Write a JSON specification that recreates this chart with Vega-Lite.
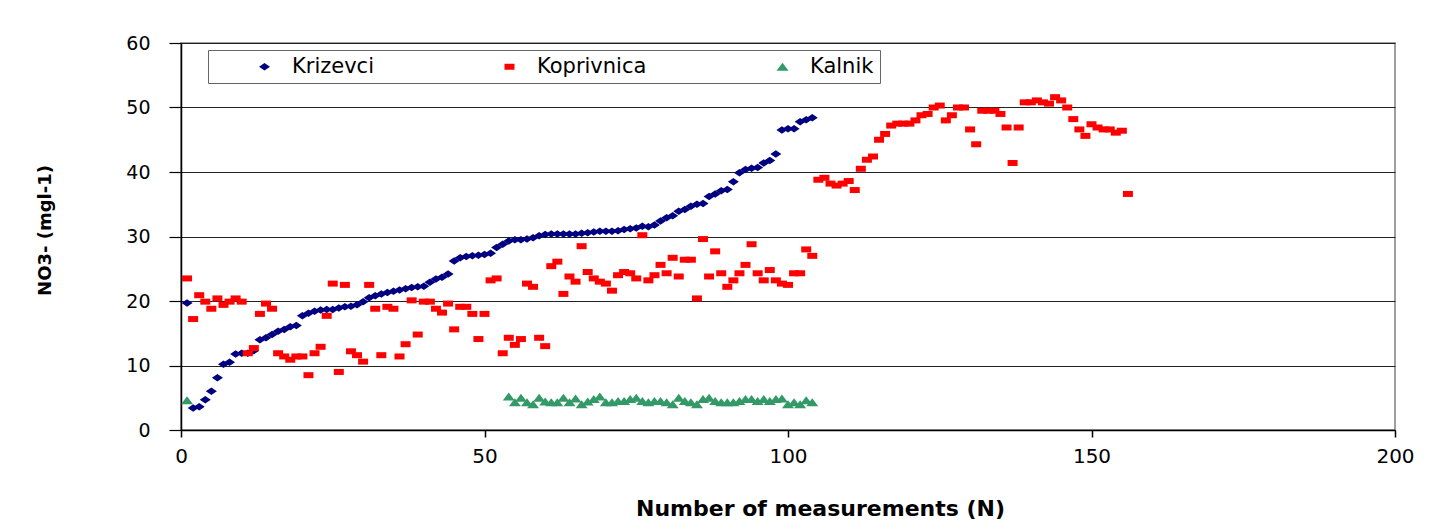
{
  "$schema": "https://vega.github.io/schema/vega-lite/v6.json",
  "width": 1214,
  "height": 387,
  "autosize": "none",
  "padding": {"left": 181, "top": 43, "right": 42, "bottom": 101},
  "background": "white",
  "config": {"view": {"stroke": "#808080", "strokeWidth": 1.5}, "font": "DejaVu Sans"},
  "data": {"values": [
    {"series":"Krizevci","N":1,"v":19.7},{"series":"Krizevci","N":2,"v":3.4},{"series":"Krizevci","N":3,"v":3.6},{"series":"Krizevci","N":4,"v":4.7},{"series":"Krizevci","N":5,"v":6.0},{"series":"Krizevci","N":6,"v":8.1},{"series":"Krizevci","N":7,"v":10.2},{"series":"Krizevci","N":8,"v":10.5},{"series":"Krizevci","N":9,"v":11.8},{"series":"Krizevci","N":10,"v":11.9},
    {"series":"Krizevci","N":11,"v":11.9},{"series":"Krizevci","N":12,"v":12.3},{"series":"Krizevci","N":13,"v":14.0},{"series":"Krizevci","N":14,"v":14.3},{"series":"Krizevci","N":15,"v":14.8},{"series":"Krizevci","N":16,"v":15.3},{"series":"Krizevci","N":17,"v":15.6},{"series":"Krizevci","N":18,"v":16.0},{"series":"Krizevci","N":19,"v":16.2},{"series":"Krizevci","N":20,"v":17.7},
    {"series":"Krizevci","N":21,"v":18.1},{"series":"Krizevci","N":22,"v":18.4},{"series":"Krizevci","N":23,"v":18.6},{"series":"Krizevci","N":24,"v":18.7},{"series":"Krizevci","N":25,"v":18.7},{"series":"Krizevci","N":26,"v":18.9},{"series":"Krizevci","N":27,"v":19.1},{"series":"Krizevci","N":28,"v":19.2},{"series":"Krizevci","N":29,"v":19.4},{"series":"Krizevci","N":30,"v":19.9},
    {"series":"Krizevci","N":31,"v":20.5},{"series":"Krizevci","N":32,"v":20.8},{"series":"Krizevci","N":33,"v":21.1},{"series":"Krizevci","N":34,"v":21.3},{"series":"Krizevci","N":35,"v":21.5},{"series":"Krizevci","N":36,"v":21.7},{"series":"Krizevci","N":37,"v":21.9},{"series":"Krizevci","N":38,"v":22.1},{"series":"Krizevci","N":39,"v":22.2},{"series":"Krizevci","N":40,"v":22.3},
    {"series":"Krizevci","N":41,"v":22.9},{"series":"Krizevci","N":42,"v":23.4},{"series":"Krizevci","N":43,"v":23.7},{"series":"Krizevci","N":44,"v":24.2},{"series":"Krizevci","N":45,"v":26.2},{"series":"Krizevci","N":46,"v":26.7},{"series":"Krizevci","N":47,"v":26.9},{"series":"Krizevci","N":48,"v":27.0},{"series":"Krizevci","N":49,"v":27.1},{"series":"Krizevci","N":50,"v":27.2},
    {"series":"Krizevci","N":51,"v":27.4},{"series":"Krizevci","N":52,"v":28.3},{"series":"Krizevci","N":53,"v":28.8},{"series":"Krizevci","N":54,"v":29.3},{"series":"Krizevci","N":55,"v":29.5},{"series":"Krizevci","N":56,"v":29.5},{"series":"Krizevci","N":57,"v":29.6},{"series":"Krizevci","N":58,"v":29.8},{"series":"Krizevci","N":59,"v":30.1},{"series":"Krizevci","N":60,"v":30.3},
    {"series":"Krizevci","N":61,"v":30.4},{"series":"Krizevci","N":62,"v":30.4},{"series":"Krizevci","N":63,"v":30.4},{"series":"Krizevci","N":64,"v":30.4},{"series":"Krizevci","N":65,"v":30.4},{"series":"Krizevci","N":66,"v":30.5},{"series":"Krizevci","N":67,"v":30.6},{"series":"Krizevci","N":68,"v":30.7},{"series":"Krizevci","N":69,"v":30.8},{"series":"Krizevci","N":70,"v":30.8},
    {"series":"Krizevci","N":71,"v":30.8},{"series":"Krizevci","N":72,"v":30.9},{"series":"Krizevci","N":73,"v":31.1},{"series":"Krizevci","N":74,"v":31.2},{"series":"Krizevci","N":75,"v":31.3},{"series":"Krizevci","N":76,"v":31.6},{"series":"Krizevci","N":77,"v":31.5},{"series":"Krizevci","N":78,"v":31.8},{"series":"Krizevci","N":79,"v":32.4},{"series":"Krizevci","N":80,"v":32.9},
    {"series":"Krizevci","N":81,"v":33.2},{"series":"Krizevci","N":82,"v":33.9},{"series":"Krizevci","N":83,"v":34.2},{"series":"Krizevci","N":84,"v":34.7},{"series":"Krizevci","N":85,"v":35.0},{"series":"Krizevci","N":86,"v":35.1},{"series":"Krizevci","N":87,"v":36.2},{"series":"Krizevci","N":88,"v":36.6},{"series":"Krizevci","N":89,"v":37.1},{"series":"Krizevci","N":90,"v":37.3},
    {"series":"Krizevci","N":91,"v":38.5},{"series":"Krizevci","N":92,"v":39.9},{"series":"Krizevci","N":93,"v":40.4},{"series":"Krizevci","N":94,"v":40.6},{"series":"Krizevci","N":95,"v":40.7},{"series":"Krizevci","N":96,"v":41.4},{"series":"Krizevci","N":97,"v":41.8},{"series":"Krizevci","N":98,"v":42.8},{"series":"Krizevci","N":99,"v":46.5},{"series":"Krizevci","N":100,"v":46.7},
    {"series":"Krizevci","N":101,"v":46.7},{"series":"Krizevci","N":102,"v":47.8},{"series":"Krizevci","N":103,"v":48.1},{"series":"Krizevci","N":104,"v":48.4},
    {"series":"Koprivnica","N":1,"v":23.5},{"series":"Koprivnica","N":2,"v":17.2},{"series":"Koprivnica","N":3,"v":20.9},{"series":"Koprivnica","N":4,"v":19.9},{"series":"Koprivnica","N":5,"v":18.8},{"series":"Koprivnica","N":6,"v":20.4},{"series":"Koprivnica","N":7,"v":19.4},{"series":"Koprivnica","N":8,"v":19.9},{"series":"Koprivnica","N":9,"v":20.4},{"series":"Koprivnica","N":10,"v":19.9},
    {"series":"Koprivnica","N":11,"v":11.9},{"series":"Koprivnica","N":12,"v":12.7},{"series":"Koprivnica","N":13,"v":18.0},{"series":"Koprivnica","N":14,"v":19.6},{"series":"Koprivnica","N":15,"v":18.8},{"series":"Koprivnica","N":16,"v":11.9},{"series":"Koprivnica","N":17,"v":11.4},{"series":"Koprivnica","N":18,"v":10.9},{"series":"Koprivnica","N":19,"v":11.4},{"series":"Koprivnica","N":20,"v":11.4},
    {"series":"Koprivnica","N":21,"v":8.5},{"series":"Koprivnica","N":22,"v":11.9},{"series":"Koprivnica","N":23,"v":12.9},{"series":"Koprivnica","N":24,"v":17.7},{"series":"Koprivnica","N":25,"v":22.7},{"series":"Koprivnica","N":26,"v":9.0},{"series":"Koprivnica","N":27,"v":22.5},{"series":"Koprivnica","N":28,"v":12.2},{"series":"Koprivnica","N":29,"v":11.6},{"series":"Koprivnica","N":30,"v":10.6},
    {"series":"Koprivnica","N":31,"v":22.5},{"series":"Koprivnica","N":32,"v":18.8},{"series":"Koprivnica","N":33,"v":11.6},{"series":"Koprivnica","N":34,"v":19.1},{"series":"Koprivnica","N":35,"v":18.8},{"series":"Koprivnica","N":36,"v":11.4},{"series":"Koprivnica","N":37,"v":13.3},{"series":"Koprivnica","N":38,"v":20.1},{"series":"Koprivnica","N":39,"v":14.8},{"series":"Koprivnica","N":40,"v":19.9},
    {"series":"Koprivnica","N":41,"v":19.9},{"series":"Koprivnica","N":42,"v":18.8},{"series":"Koprivnica","N":43,"v":18.2},{"series":"Koprivnica","N":44,"v":19.6},{"series":"Koprivnica","N":45,"v":15.6},{"series":"Koprivnica","N":46,"v":19.1},{"series":"Koprivnica","N":47,"v":19.1},{"series":"Koprivnica","N":48,"v":18.0},{"series":"Koprivnica","N":49,"v":14.1},{"series":"Koprivnica","N":50,"v":18.0},
    {"series":"Koprivnica","N":51,"v":23.2},{"series":"Koprivnica","N":52,"v":23.5},{"series":"Koprivnica","N":53,"v":11.9},{"series":"Koprivnica","N":54,"v":14.3},{"series":"Koprivnica","N":55,"v":13.2},{"series":"Koprivnica","N":56,"v":14.1},{"series":"Koprivnica","N":57,"v":22.7},{"series":"Koprivnica","N":58,"v":22.2},{"series":"Koprivnica","N":59,"v":14.3},{"series":"Koprivnica","N":60,"v":13.0},
    {"series":"Koprivnica","N":61,"v":25.4},{"series":"Koprivnica","N":62,"v":26.1},{"series":"Koprivnica","N":63,"v":21.1},{"series":"Koprivnica","N":64,"v":23.8},{"series":"Koprivnica","N":65,"v":23.0},{"series":"Koprivnica","N":66,"v":28.5},{"series":"Koprivnica","N":67,"v":24.5},{"series":"Koprivnica","N":68,"v":23.5},{"series":"Koprivnica","N":69,"v":23.0},{"series":"Koprivnica","N":70,"v":22.7},
    {"series":"Koprivnica","N":71,"v":21.6},{"series":"Koprivnica","N":72,"v":24.0},{"series":"Koprivnica","N":73,"v":24.5},{"series":"Koprivnica","N":74,"v":24.3},{"series":"Koprivnica","N":75,"v":23.5},{"series":"Koprivnica","N":76,"v":30.2},{"series":"Koprivnica","N":77,"v":23.2},{"series":"Koprivnica","N":78,"v":24.0},{"series":"Koprivnica","N":79,"v":25.6},{"series":"Koprivnica","N":80,"v":24.3},
    {"series":"Koprivnica","N":81,"v":26.7},{"series":"Koprivnica","N":82,"v":23.8},{"series":"Koprivnica","N":83,"v":26.4},{"series":"Koprivnica","N":84,"v":26.4},{"series":"Koprivnica","N":85,"v":20.4},{"series":"Koprivnica","N":86,"v":29.6},{"series":"Koprivnica","N":87,"v":23.8},{"series":"Koprivnica","N":88,"v":27.7},{"series":"Koprivnica","N":89,"v":24.3},{"series":"Koprivnica","N":90,"v":22.2},
    {"series":"Koprivnica","N":91,"v":23.2},{"series":"Koprivnica","N":92,"v":24.3},{"series":"Koprivnica","N":93,"v":25.6},{"series":"Koprivnica","N":94,"v":28.8},{"series":"Koprivnica","N":95,"v":24.3},{"series":"Koprivnica","N":96,"v":23.2},{"series":"Koprivnica","N":97,"v":24.8},{"series":"Koprivnica","N":98,"v":23.2},{"series":"Koprivnica","N":99,"v":22.7},{"series":"Koprivnica","N":100,"v":22.5},
    {"series":"Koprivnica","N":101,"v":24.3},{"series":"Koprivnica","N":102,"v":24.3},{"series":"Koprivnica","N":103,"v":28.0},{"series":"Koprivnica","N":104,"v":27.0},{"series":"Koprivnica","N":105,"v":38.8},{"series":"Koprivnica","N":106,"v":39.1},{"series":"Koprivnica","N":107,"v":38.2},{"series":"Koprivnica","N":108,"v":37.9},{"series":"Koprivnica","N":109,"v":38.2},{"series":"Koprivnica","N":110,"v":38.6},
    {"series":"Koprivnica","N":111,"v":37.2},{"series":"Koprivnica","N":112,"v":40.5},{"series":"Koprivnica","N":113,"v":41.9},{"series":"Koprivnica","N":114,"v":42.4},{"series":"Koprivnica","N":115,"v":45.0},{"series":"Koprivnica","N":116,"v":45.9},{"series":"Koprivnica","N":117,"v":47.2},{"series":"Koprivnica","N":118,"v":47.5},{"series":"Koprivnica","N":119,"v":47.5},{"series":"Koprivnica","N":120,"v":47.5},
    {"series":"Koprivnica","N":121,"v":48.0},{"series":"Koprivnica","N":122,"v":48.8},{"series":"Koprivnica","N":123,"v":49.0},{"series":"Koprivnica","N":124,"v":50.0},{"series":"Koprivnica","N":125,"v":50.3},{"series":"Koprivnica","N":126,"v":48.0},{"series":"Koprivnica","N":127,"v":48.8},{"series":"Koprivnica","N":128,"v":50.0},{"series":"Koprivnica","N":129,"v":50.0},{"series":"Koprivnica","N":130,"v":46.6},
    {"series":"Koprivnica","N":131,"v":44.3},{"series":"Koprivnica","N":132,"v":49.5},{"series":"Koprivnica","N":133,"v":49.5},{"series":"Koprivnica","N":134,"v":49.5},{"series":"Koprivnica","N":135,"v":49.0},{"series":"Koprivnica","N":136,"v":46.9},{"series":"Koprivnica","N":137,"v":41.4},{"series":"Koprivnica","N":138,"v":46.9},{"series":"Koprivnica","N":139,"v":50.8},{"series":"Koprivnica","N":140,"v":50.8},
    {"series":"Koprivnica","N":141,"v":51.1},{"series":"Koprivnica","N":142,"v":50.8},{"series":"Koprivnica","N":143,"v":50.6},{"series":"Koprivnica","N":144,"v":51.6},{"series":"Koprivnica","N":145,"v":51.1},{"series":"Koprivnica","N":146,"v":50.0},{"series":"Koprivnica","N":147,"v":48.2},{"series":"Koprivnica","N":148,"v":46.6},{"series":"Koprivnica","N":149,"v":45.6},{"series":"Koprivnica","N":150,"v":47.4},
    {"series":"Koprivnica","N":151,"v":46.9},{"series":"Koprivnica","N":152,"v":46.6},{"series":"Koprivnica","N":153,"v":46.6},{"series":"Koprivnica","N":154,"v":46.1},{"series":"Koprivnica","N":155,"v":46.4},{"series":"Koprivnica","N":156,"v":36.6},
    {"series":"Kalnik","N":1,"v":4.6},
    {"series":"Kalnik","N":54,"v":5.2},{"series":"Kalnik","N":55,"v":4.3},{"series":"Kalnik","N":56,"v":5.0},{"series":"Kalnik","N":57,"v":4.3},{"series":"Kalnik","N":58,"v":4.0},{"series":"Kalnik","N":59,"v":5.0},{"series":"Kalnik","N":60,"v":4.4},{"series":"Kalnik","N":61,"v":4.3},{"series":"Kalnik","N":62,"v":4.3},{"series":"Kalnik","N":63,"v":5.0},
    {"series":"Kalnik","N":64,"v":4.3},{"series":"Kalnik","N":65,"v":4.9},{"series":"Kalnik","N":66,"v":4.0},{"series":"Kalnik","N":67,"v":4.4},{"series":"Kalnik","N":68,"v":4.8},{"series":"Kalnik","N":69,"v":5.2},{"series":"Kalnik","N":70,"v":4.3},{"series":"Kalnik","N":71,"v":4.3},{"series":"Kalnik","N":72,"v":4.5},{"series":"Kalnik","N":73,"v":4.5},
    {"series":"Kalnik","N":74,"v":4.8},{"series":"Kalnik","N":75,"v":5.0},{"series":"Kalnik","N":76,"v":4.5},{"series":"Kalnik","N":77,"v":4.3},{"series":"Kalnik","N":78,"v":4.5},{"series":"Kalnik","N":79,"v":4.5},{"series":"Kalnik","N":80,"v":4.3},{"series":"Kalnik","N":81,"v":4.0},{"series":"Kalnik","N":82,"v":5.0},{"series":"Kalnik","N":83,"v":4.5},
    {"series":"Kalnik","N":84,"v":4.3},{"series":"Kalnik","N":85,"v":4.0},{"series":"Kalnik","N":86,"v":4.8},{"series":"Kalnik","N":87,"v":5.0},{"series":"Kalnik","N":88,"v":4.5},{"series":"Kalnik","N":89,"v":4.3},{"series":"Kalnik","N":90,"v":4.3},{"series":"Kalnik","N":91,"v":4.3},{"series":"Kalnik","N":92,"v":4.5},{"series":"Kalnik","N":93,"v":4.8},
    {"series":"Kalnik","N":94,"v":4.8},{"series":"Kalnik","N":95,"v":4.5},{"series":"Kalnik","N":96,"v":4.8},{"series":"Kalnik","N":97,"v":4.5},{"series":"Kalnik","N":98,"v":4.8},{"series":"Kalnik","N":99,"v":4.9},{"series":"Kalnik","N":100,"v":4.0},{"series":"Kalnik","N":101,"v":4.3},{"series":"Kalnik","N":102,"v":4.0},{"series":"Kalnik","N":103,"v":4.6},
    {"series":"Kalnik","N":104,"v":4.3}
  ]},
  "mark": {"type": "point", "filled": true, "opacity": 1, "strokeWidth": 0, "size": 100},
  "encoding": {
    "x": {
      "field": "N", "type": "quantitative",
      "scale": {"domain": [0, 200], "nice": false, "zero": false},
      "axis": {
        "values": [0, 50, 100, 150, 200], "grid": false,
        "title": "Number of measurements (N)",
        "domainColor": "#000000", "domainWidth": 1.5, "tickColor": "#000000", "tickWidth": 1.5, "tickSize": 7,
        "labelFont": "DejaVu Sans", "labelFontSize": 20, "labelColor": "#000000", "labelPadding": 9, "labelFlush": false,
        "titleFont": "DejaVu Sans", "titleFontSize": 22, "titleFontWeight": "bold", "titleColor": "#000000",
        "titleX": 639, "titleY": 78, "titleAlign": "center", "titleBaseline": "middle", "titleAnchor": null
      }
    },
    "y": {
      "field": "v", "type": "quantitative",
      "scale": {"domain": [0, 60], "nice": false},
      "axis": {
        "values": [0, 10, 20, 30, 40, 50, 60], "grid": true, "gridColor": "#222222", "gridOpacity": 1, "gridWidth": 1.2,
        "title": "NO3- (mgl-1)",
        "domainColor": "#000000", "domainWidth": 1.5, "tickColor": "#000000", "tickWidth": 1.2, "tickSize": 12,
        "labelFont": "DejaVu Sans", "labelFontSize": 19, "labelColor": "#000000", "labelPadding": 19,
        "titleFont": "DejaVu Sans", "titleFontSize": 18, "titleFontWeight": "bold", "titleColor": "#000000",
        "titleX": -136, "titleY": 187, "titleAngle": -90, "titleAlign": "center", "titleBaseline": "middle", "titleAnchor": null
      }
    },
    "color": {
      "field": "series", "type": "nominal",
      "scale": {"domain": ["Krizevci", "Koprivnica", "Kalnik"], "range": ["#000080", "#ff0000", "#339966"]},
      "legend": {
        "title": null, "orient": "none", "legendX": 27, "legendY": 7, "direction": "horizontal",
        "strokeColor": "#666666", "fillColor": "#ffffff", "padding": 6,
        "labelFont": "DejaVu Sans", "labelFontSize": 21, "labelColor": "#000000", "labelOffset": 17,
        "symbolOffset": 40,
        "columnPadding": 85, "symbolStrokeWidth": 0, "symbolOpacity": 1, "symbolSize": 100
      }
    },
    "shape": {
      "field": "series", "type": "nominal",
      "scale": {"domain": ["Krizevci", "Koprivnica", "Kalnik"], "range": ["M-1.1,0L0,-0.75L1.1,0L0,0.75Z", "M-1,-0.6H1V0.6H-1Z", "M-1.2,0.8L0,-0.8L1.2,0.8Z"]},
      "legend": {
        "title": null, "orient": "none", "legendX": 27, "legendY": 7, "direction": "horizontal",
        "strokeColor": "#666666", "fillColor": "#ffffff", "padding": 6,
        "labelFont": "DejaVu Sans", "labelFontSize": 21, "labelColor": "#000000", "labelOffset": 17,
        "symbolOffset": 40,
        "columnPadding": 85, "symbolStrokeWidth": 0, "symbolOpacity": 1, "symbolSize": 100
      }
    }
  }
}
